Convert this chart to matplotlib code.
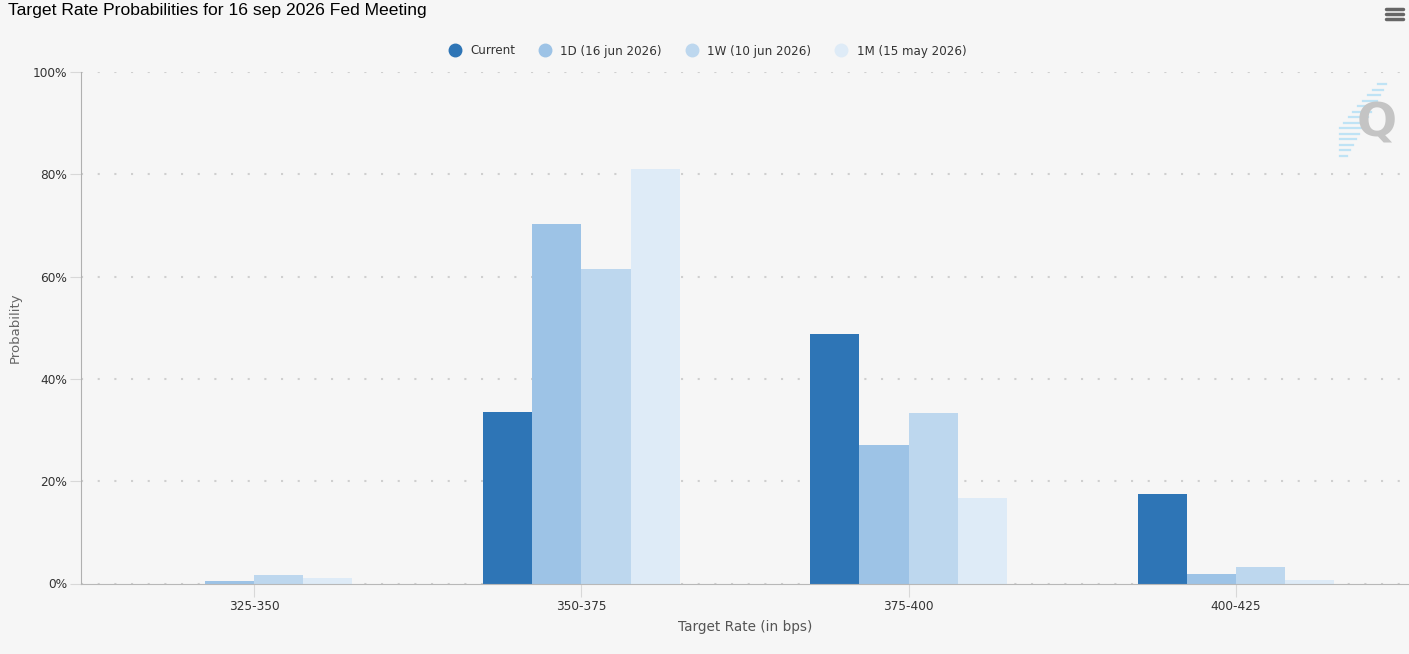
import matplotlib
matplotlib.use("Agg")
import matplotlib.pyplot as plt
from matplotlib.lines import Line2D
import numpy as np

# data (percent)
categories = ["325-350", "350-375", "375-400", "400-425"]
series_names = ["Current", "1D (16 jun 2026)", "1W (10 jun 2026)", "1M (15 may 2026)"]
current = [0.0, 33.5, 48.7, 17.4]
one_day = [0.4, 70.3, 27.0, 1.9]
one_week = [1.7, 61.4, 33.3, 3.2]
one_month = [1.0, 81.0, 16.8, 0.7]
colors = ["#2e75b6", "#9dc3e6", "#bdd7ee", "#deebf7"]
y_ticks = [0, 20, 40, 60, 80, 100]

bg = "#f6f6f6"
fig = plt.figure(figsize=(14.09, 6.54), dpi=100, facecolor=bg)
ax = fig.add_axes([81 / 1409, 1 - 583.5 / 654, 1 - 81 / 1409, (583.5 - 72) / 654])
ax.set_facecolor(bg)

x = np.arange(len(categories))
width = 0.15
all_series = [current, one_day, one_week, one_month]
for i, (vals, name, col) in enumerate(zip(all_series, series_names, colors)):
    ax.bar(x + (i - 1.5) * width, vals, width, color=col, label=name, linewidth=0, zorder=3)

ax.set_xlim(-0.53, 3.53)
ax.set_ylim(0, 100)
ax.set_xticks(x)
ax.set_xticklabels(categories, fontsize=8.7, color="#333333")
ax.set_yticks(y_ticks)
ax.set_yticklabels([f"{t}%" for t in y_ticks], fontsize=8.7, color="#333333")
ax.tick_params(axis="x", length=9, color="#d8d8d8", pad=3)
ax.tick_params(axis="y", length=8, color="#d8d8d8", pad=2)

ax.grid(axis="y", linestyle=(0, (1, 7)), color="#cfcfcf", linewidth=1.5, zorder=0)
for s in ["top", "right"]:
    ax.spines[s].set_visible(False)
ax.spines["left"].set_color("#b0b0b0")
ax.spines["bottom"].set_color("#b8b8b8")
ax.spines["bottom"].set_zorder(4)

ax.set_ylabel("Probability", fontsize=9.5, color="#666666")
ax.yaxis.set_label_coords((22 - 81) / 1328, 0.5)
ax.set_xlabel("Target Rate (in bps)", fontsize=9.8, color="#555555", labelpad=5)

fig.text(8 / 1409, 1 - 11 / 654, "Target Rate Probabilities for 16 sep 2026 Fed Meeting",
         fontsize=12.6, family="Liberation Sans", color="black", va="center", ha="left")

handles = [Line2D([], [], marker="o", linestyle="", markersize=9, markerfacecolor=c,
                  markeredgecolor=c) for c in colors]
fig.legend(handles, series_names, loc="center", bbox_to_anchor=(0.5, 1 - 51 / 654), ncol=4,
           frameon=False, fontsize=8.6, labelcolor="#333333", handletextpad=0.3,
           columnspacing=1.5)

# hamburger menu icon
for yy in [9, 14, 19]:
    fig.add_artist(Line2D([1386 / 1409, 1403 / 1409], [1 - yy / 654, 1 - yy / 654],
                          color="#666666", linewidth=2.5, solid_capstyle="round"))

# watermark logo
for yy in np.arange(84, 158, 5.5):
    left = max(1340, 1380 - (yy - 82) * 0.9)
    right = 1387 - (yy - 82) * 0.55
    fig.add_artist(Line2D([left / 1409, right / 1409], [1 - yy / 654, 1 - yy / 654],
                          color="#bfe3f5", linewidth=1.6))
fig.text(1377 / 1409, 1 - 124 / 654, "Q", fontsize=34, fontweight="bold", color="#c4c4c4",
         ha="center", va="center", family="DejaVu Sans")

fig.savefig("out.png", dpi=100, facecolor=bg)
